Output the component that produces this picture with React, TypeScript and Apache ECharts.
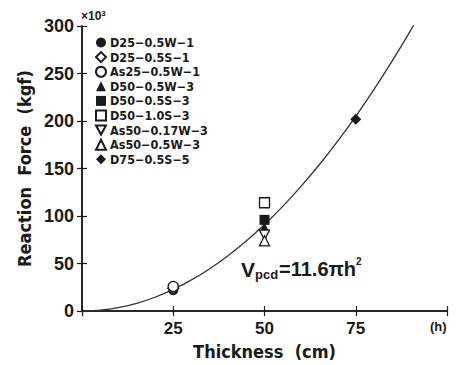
import React, { useEffect, useRef } from "react";
import * as echarts from "echarts";

// Data (x10^3 kgf)
const seriesNames = [
  "D25−0.5W−1",
  "D25−0.5S−1",
  "As25−0.5W−1",
  "D50−0.5W−3",
  "D50−0.5S−3",
  "D50−1.0S−3",
  "As50−0.17W−3",
  "As50−0.5W−3",
  "D75−0.5S−5",
];
const thickness = [25, 25, 25, 50, 50, 50, 50, 50, 75];
const force = [22, 24, 26, 88, 96, 114, 80, 74, 202];
const symbols = [
  "circle",
  "diamond",
  "circle",
  "triangle",
  "rect",
  "rect",
  "path://M0,0 L10,0 L5,9 Z",
  "triangle",
  "diamond",
];
const filled = [true, false, false, true, true, false, false, false, true];

// fitted curve V = 11.6*pi*h^2 (read values, x10^3 kgf)
const curveH = [0, 5, 10, 15, 20, 25, 30, 35, 40, 45, 50, 55, 60, 65, 70, 75, 80, 85, 90, 95];
const curveV = [0, 0.91, 3.64, 8.2, 14.58, 22.78, 32.8, 44.64, 58.31, 73.8, 91.11, 110.24, 131.19, 153.97, 178.57, 204.99, 233.23, 263.29, 295.18, 328.89];

const xTicks = [25, 50, 75];

const TFONT = "'Liberation Sans', Arial, sans-serif";
const LFONT = "'DejaVu Sans Condensed', 'DejaVu Sans', sans-serif";
const INK = "#1a1a1a";

export default function App() {
  const ref = useRef<HTMLDivElement>(null);
  useEffect(() => {
    if (!ref.current) return;
    const chart = echarts.init(ref.current, undefined, { renderer: "svg" });
    const scatterSeries = seriesNames.map((name, i) => ({
      name,
      type: "scatter",
      symbol: symbols[i],
      symbolSize: symbols[i] === "diamond" ? 11 : 10,
      itemStyle: {
        color: filled[i] ? INK : "#ffffff",
        borderColor: INK,
        borderWidth: filled[i] ? 0 : 1.3,
        opacity: 1,
      },
      data: [[thickness[i], force[i]]],
      z: 3,
    }));
    const axisCommon = {
      axisLine: { show: true, lineStyle: { color: INK, width: 1.5 } },
      axisTick: { show: true, inside: true, length: 5, lineStyle: { color: INK, width: 1.2 } },
      splitLine: { show: false },
    };
    chart.setOption({
      animation: false,
      backgroundColor: "#ffffff",
      grid: { left: 82, right: 10, top: 26, bottom: 51, containLabel: false },
      legend: {
        orient: "vertical",
        left: 90,
        top: 31,
        itemWidth: 10,
        itemHeight: 10,
        itemGap: 1.6,
        data: seriesNames,
        textStyle: { fontFamily: LFONT, fontWeight: "bold", fontSize: 12.5, color: INK, padding: [0, 0, 0, -1] },
      },
      xAxis: [
        {
          type: "value",
          min: 0,
          max: 100,
          interval: 25,
          ...axisCommon,
          axisLabel: {
            show: true,
            margin: 9,
            fontFamily: TFONT,
            fontWeight: "bold",
            fontSize: 17,
            color: INK,
            formatter: (v: number) => (xTicks.includes(v) ? String(v) : ""),
          },
          name: "Thickness  (cm)",
          nameLocation: "middle",
          nameGap: 30,
          nameTextStyle: { fontFamily: LFONT, fontWeight: "bold", fontSize: 18, color: INK },
        },
        {
          type: "value",
          position: "top",
          min: 0,
          max: 100,
          interval: 25,
          ...axisCommon,
          axisLabel: { show: false },
        },
      ],
      yAxis: [
        {
          type: "value",
          min: 0,
          max: 300,
          interval: 50,
          ...axisCommon,
          axisLabel: {
            margin: 8,
            fontFamily: TFONT,
            fontWeight: "bold",
            fontSize: 18,
            color: INK,
          },
          name: "Reaction  Force  (kgf)",
          nameLocation: "middle",
          nameGap: 41,
          nameTextStyle: { fontFamily: LFONT, fontWeight: "bold", fontSize: 18, color: INK },
        },
        {
          type: "value",
          position: "right",
          min: 0,
          max: 300,
          interval: 50,
          ...axisCommon,
          axisLabel: { show: false },
        },
      ],
      series: [
        {
          name: "curve",
          type: "line",
          data: curveH.map((h, i) => [h, curveV[i]]),
          smooth: 0.3,
          showSymbol: false,
          symbol: "none",
          clip: true,
          lineStyle: { color: "#333", width: 1.3 },
          z: 2,
        },
        ...scatterSeries,
      ],
      graphic: [
        {
          type: "text",
          left: 81,
          top: 9,
          style: {
            text: "{a|×10}{b|3}",
            rich: {
              a: { fontFamily: TFONT, fontWeight: "bold", fontSize: 12, fill: INK },
              b: { fontFamily: TFONT, fontWeight: "bold", fontSize: 8, fill: INK, verticalAlign: "top", padding: [0, 0, 6, 0] },
            },
          },
        },
        {
          type: "text",
          left: 430,
          top: 320,
          style: { text: "(h)", fontFamily: TFONT, fontWeight: "bold", fontSize: 13, fill: INK },
        },
        {
          type: "text",
          left: 241,
          top: 259,
          style: { text: "V", fontFamily: TFONT, fontWeight: "bold", fontSize: 21, fill: INK },
        },
        {
          type: "text",
          left: 255,
          top: 268,
          style: { text: "pcd", fontFamily: TFONT, fontWeight: "bold", fontSize: 13, fill: INK },
        },
        {
          type: "text",
          left: 279,
          top: 259,
          style: { text: "=11.6πh", fontFamily: TFONT, fontWeight: "bold", fontSize: 20, fill: INK },
        },
        {
          type: "text",
          left: 356,
          top: 256,
          style: { text: "2", fontFamily: TFONT, fontWeight: "bold", fontSize: 10, fill: INK },
        },
      ],
    });
    return () => chart.dispose();
  }, []);
  return <div ref={ref} style={{ width: 457, height: 365, position: "absolute", left: 0, top: 0 }} />;
}
